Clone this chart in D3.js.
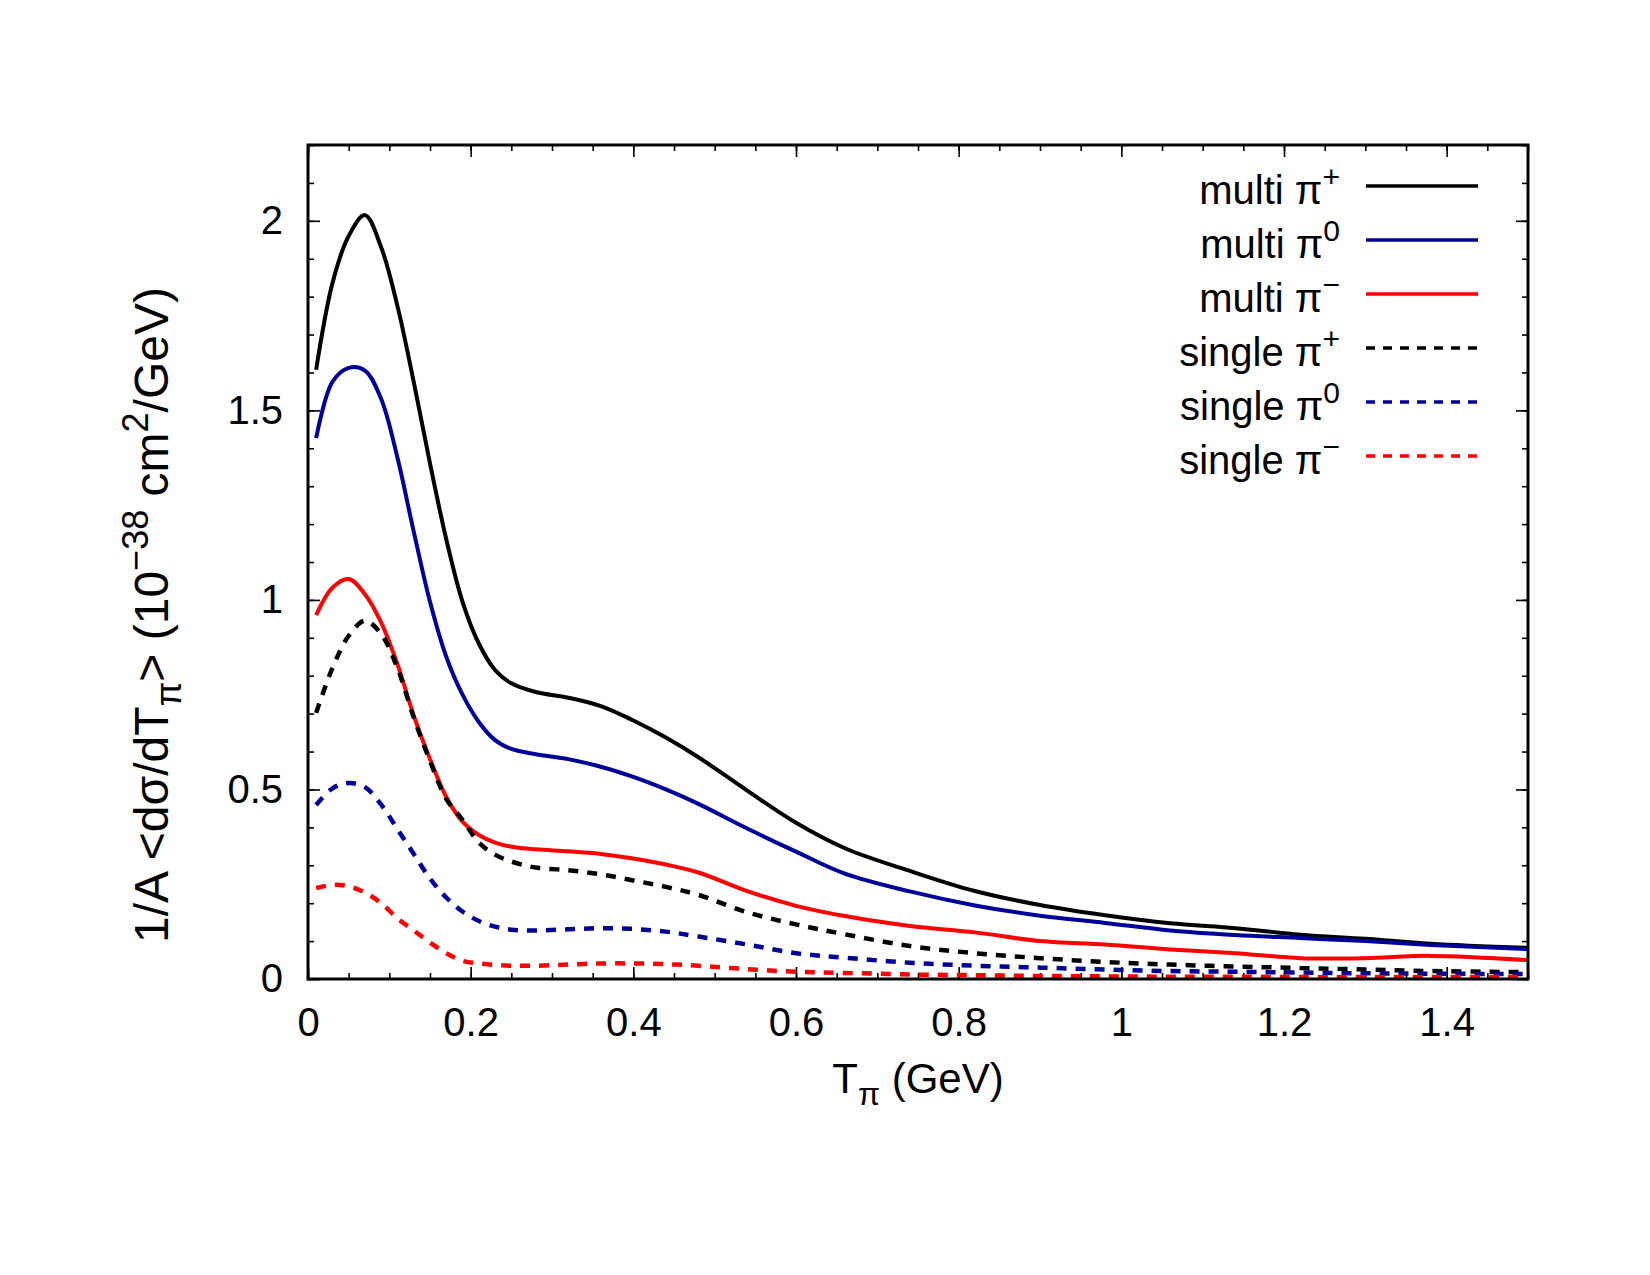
<!DOCTYPE html>
<html>
<head>
<meta charset="utf-8">
<script src="https://cdn.jsdelivr.net/npm/d3@7"></script>
<style>
  html, body { margin: 0; padding: 0; background: #fff; overflow: hidden; }
  svg { display: block; }
  text { font-family: "Liberation Sans", Arial, sans-serif; fill: #000; }
</style>
</head>
<body>
<div id="chart"></div>
<script>
/* DATA */
const tPi = [0.01, 0.03, 0.05, 0.07, 0.09, 0.11, 0.13, 0.15, 0.17, 0.19, 0.21, 0.23, 0.25, 0.28, 0.32, 0.36,
             0.40, 0.44, 0.48, 0.54, 0.60, 0.66, 0.74, 0.82, 0.90, 0.98, 1.06, 1.14, 1.22, 1.30, 1.38, 1.50];

const multiPlus  = [1.607, 1.835, 1.96, 2.015, 1.93, 1.775, 1.575, 1.36, 1.16, 0.995, 0.885, 0.815, 0.78, 0.757, 0.742, 0.72,
                    0.682, 0.637, 0.585, 0.497, 0.412, 0.345, 0.285, 0.232, 0.195, 0.168, 0.147, 0.134, 0.117, 0.106, 0.093, 0.082];
const multiZero  = [1.427, 1.575, 1.612, 1.605, 1.53, 1.375, 1.18, 0.995, 0.85, 0.75, 0.678, 0.63, 0.607, 0.593, 0.58, 0.56,
                    0.533, 0.50, 0.462, 0.397, 0.336, 0.278, 0.231, 0.194, 0.167, 0.148, 0.128, 0.116, 0.108, 0.100, 0.090, 0.079];
const multiMinus = [0.96, 1.032, 1.055, 1.015, 0.94, 0.83, 0.695, 0.58, 0.48, 0.415, 0.38, 0.36, 0.349, 0.342, 0.337, 0.33,
                    0.318, 0.302, 0.281, 0.232, 0.193, 0.166, 0.14, 0.123, 0.10, 0.091, 0.078, 0.068, 0.055, 0.055, 0.061, 0.05];
const singlePlus  = [0.702, 0.82, 0.905, 0.945, 0.91, 0.82, 0.69, 0.575, 0.475, 0.42, 0.36, 0.328, 0.31, 0.294, 0.287, 0.276,
                     0.26, 0.243, 0.222, 0.176, 0.144, 0.118, 0.087, 0.068, 0.055, 0.045, 0.038, 0.033, 0.029, 0.025, 0.021, 0.018];
const singleZero  = [0.459, 0.503, 0.517, 0.506, 0.46, 0.395, 0.33, 0.265, 0.215, 0.178, 0.153, 0.138, 0.13, 0.128, 0.131, 0.134,
                     0.132, 0.125, 0.112, 0.091, 0.068, 0.056, 0.043, 0.035, 0.03, 0.025, 0.021, 0.019, 0.017, 0.015, 0.014, 0.013];
const singleMinus = [0.24, 0.248, 0.245, 0.228, 0.20, 0.16, 0.128, 0.096, 0.068, 0.048, 0.041, 0.037, 0.035, 0.035, 0.038, 0.041,
                     0.041, 0.039, 0.035, 0.026, 0.019, 0.016, 0.012, 0.010, 0.008, 0.007, 0.006, 0.006, 0.005, 0.005, 0.005, 0.005];

const seriesNames = ["multi", "multi", "multi", "single", "single", "single"];
const charges = ["+", "0", "\u2212", "+", "0", "\u2212"];
const colors = ["#000000", "#000099", "#ff0000", "#000000", "#000099", "#ff0000"];
const dashed = [false, false, false, true, true, true];
const seriesValues = [multiPlus, multiZero, multiMinus, singlePlus, singleZero, singleMinus];

const xTicks = [0, 0.2, 0.4, 0.6, 0.8, 1, 1.2, 1.4];
const yTicks = [0, 0.5, 1, 1.5, 2];

/* CONSTANTS */
const width = 1650, height = 1275;
const margin = {top: 145, right: 122, bottom: 296, left: 308};
const innerWidth = width - margin.left - margin.right,
      innerHeight = height - margin.top - margin.bottom;

const svg = d3.select("#chart").append("svg")
  .attr("width", width)
  .attr("height", height);

svg.append("rect").attr("width", width).attr("height", height).attr("fill", "#fff");

const g = svg.append("g")
  .attr("transform", `translate(${margin.left},${margin.top})`);

/* SCALES */
const xScale = d3.scaleLinear().domain([0, 1.5]).range([0, innerWidth]);
const yScale = d3.scaleLinear().domain([0, 2.2]).range([innerHeight, 0]);

/* AXES (ticks on all four sides, pointing inward) */
const xMinor = d3.range(0, 1.5001, 0.05);
const yMinor = d3.range(0, 2.2001, 0.1);

function styleAxis(sel) {
  sel.select(".domain").remove();
  sel.selectAll(".tick line").attr("stroke", "#000").attr("stroke-width", 1.6);
  sel.selectAll(".tick text").attr("font-size", "40px").attr("fill", "#000")
    .style("font-family", "'Liberation Sans', Arial, sans-serif");
}
function noLabels(sel) {
  sel.selectAll(".tick text").remove();
}

// minor ticks
g.append("g").attr("transform", `translate(0,${innerHeight})`)
  .call(d3.axisBottom(xScale).tickValues(xMinor).tickSize(-6))
  .call(styleAxis).call(noLabels);
g.append("g")
  .call(d3.axisTop(xScale).tickValues(xMinor).tickSize(-6))
  .call(styleAxis).call(noLabels);
g.append("g")
  .call(d3.axisLeft(yScale).tickValues(yMinor).tickSize(-6))
  .call(styleAxis).call(noLabels);
g.append("g").attr("transform", `translate(${innerWidth},0)`)
  .call(d3.axisRight(yScale).tickValues(yMinor).tickSize(-6))
  .call(styleAxis).call(noLabels);

// major ticks
g.append("g").attr("transform", `translate(0,${innerHeight})`)
  .call(d3.axisBottom(xScale).tickValues(xTicks).tickSize(-12).tickPadding(29).tickFormat(d3.format("")))
  .call(styleAxis);
g.append("g")
  .call(d3.axisTop(xScale).tickValues(xTicks).tickSize(-12))
  .call(styleAxis).call(noLabels);
g.append("g")
  .call(d3.axisLeft(yScale).tickValues(yTicks).tickSize(-12).tickPadding(25).tickFormat(d3.format("")))
  .call(styleAxis);
g.append("g").attr("transform", `translate(${innerWidth},0)`)
  .call(d3.axisRight(yScale).tickValues(yTicks).tickSize(-12))
  .call(styleAxis).call(noLabels);

/* LINES */
const line = d3.line()
  .x(d => xScale(d[0]))
  .y(d => yScale(d[1]))
  .curve(d3.curveCatmullRom.alpha(0.5));

g.append("clipPath").attr("id", "clip")
  .append("rect").attr("width", innerWidth).attr("height", innerHeight);

const plotArea = g.append("g").attr("clip-path", "url(#clip)");

seriesValues.forEach((vals, i) => {
  plotArea.append("path")
    .datum(tPi.map((t, j) => [t, vals[j]]))
    .attr("fill", "none")
    .attr("stroke", colors[i])
    .attr("stroke-width", dashed[i] ? 4.5 : 4)
    .attr("stroke-dasharray", dashed[i] ? "10,9" : null)
    .attr("d", line);
});

/* FRAME */
g.append("rect")
  .attr("width", innerWidth)
  .attr("height", innerHeight)
  .attr("fill", "none")
  .attr("stroke", "#000")
  .attr("stroke-width", 3);

/* LEGEND */
const legend = svg.append("g");
const legY0 = 186, legDy = 54;
seriesNames.forEach((name, i) => {
  const y = legY0 + i * legDy;
  const t = legend.append("text")
    .attr("x", 1340)
    .attr("y", y + 18)
    .attr("text-anchor", "end")
    .attr("font-size", "40px");
  t.append("tspan").text(name + " \u03c0");
  t.append("tspan").attr("dy", -17).attr("font-size", "30px").text(charges[i]);
  legend.append("line")
    .attr("x1", 1366).attr("x2", 1478)
    .attr("y1", y).attr("y2", y)
    .attr("stroke", colors[i])
    .attr("stroke-width", 3.5)
    .attr("stroke-dasharray", dashed[i] ? "9,8" : null);
});

/* AXIS LABELS */
const xl = svg.append("text")
  .attr("x", margin.left + innerWidth / 2)
  .attr("y", 1093)
  .attr("text-anchor", "middle")
  .attr("font-size", "42px");
xl.append("tspan").text("T");
xl.append("tspan").attr("dy", 12).attr("font-size", "32px").text("\u03c0");
xl.append("tspan").attr("dy", -12).text(" (GeV)");

const yl = svg.append("text")
  .attr("transform", `translate(168,615) rotate(-90)`)
  .attr("text-anchor", "middle")
  .attr("font-size", "48px");
yl.append("tspan").text("1/A <d\u03c3/dT");
yl.append("tspan").attr("dy", 13).attr("font-size", "36px").text("\u03c0");
yl.append("tspan").attr("dy", -13).text("> (10");
yl.append("tspan").attr("dy", -20).attr("font-size", "36px").text("\u221238");
yl.append("tspan").attr("dy", 20).text(" cm");
yl.append("tspan").attr("dy", -20).attr("font-size", "36px").text("2");
yl.append("tspan").attr("dy", 20).text("/GeV)");
</script>
</body>
</html>
